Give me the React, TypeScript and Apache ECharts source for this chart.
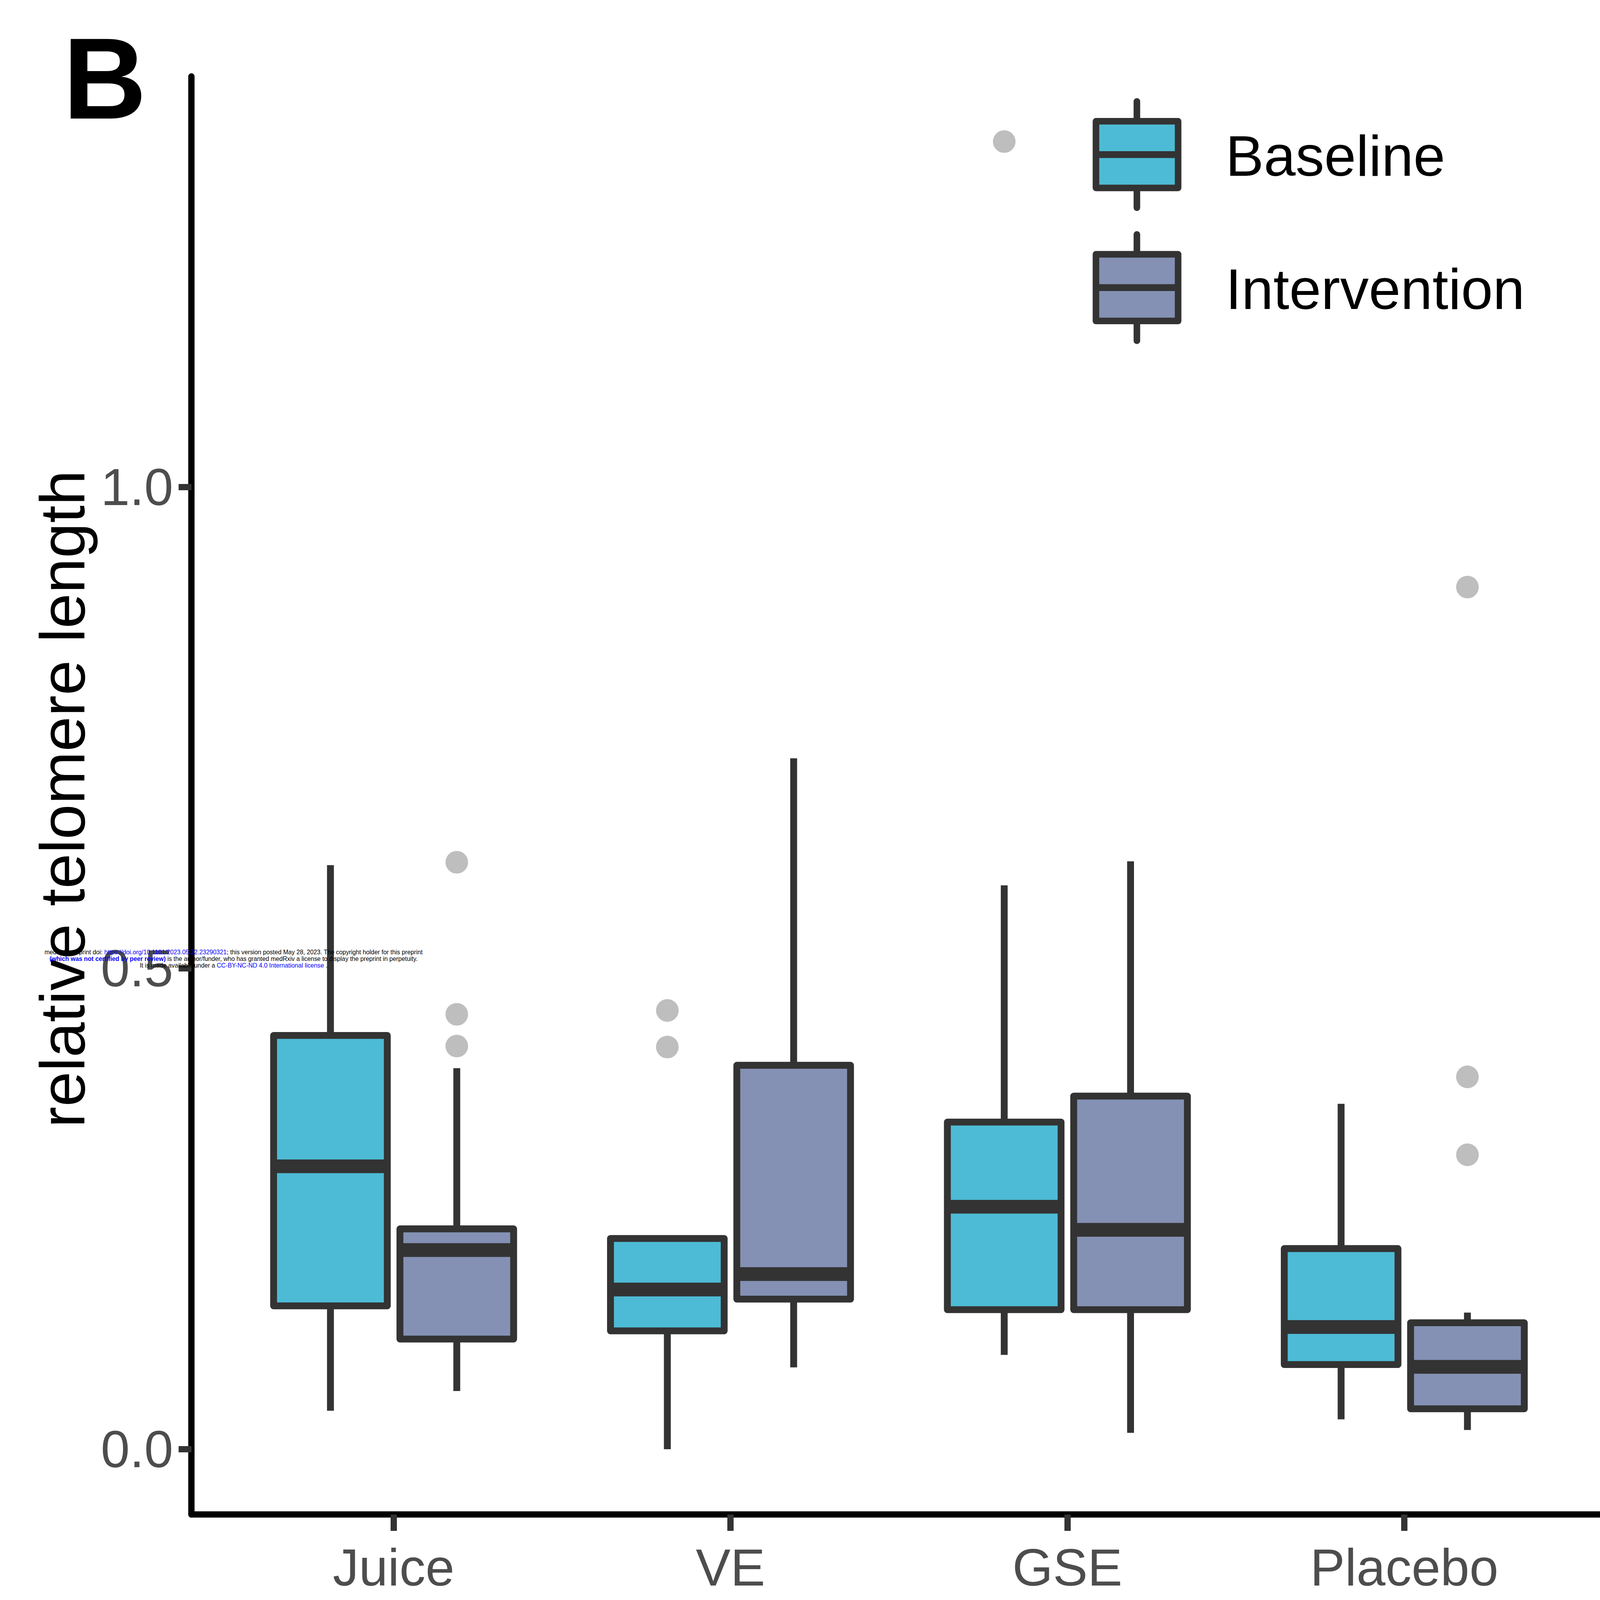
import React, { useEffect, useRef } from "react";
import * as echarts from "echarts";

// ---- data ----
const categories = ["Juice", "VE", "GSE", "Placebo"];
const groupNames = ["Baseline", "Intervention"];
const groupColors = ["#4DBBD5", "#8491B4"];
// each row: [lower whisker, Q1, median, Q3, upper whisker]
const baselineStats = [
  [0.04, 0.149, 0.294, 0.43, 0.607],
  [0.0, 0.123, 0.166, 0.219, 0.221],
  [0.098, 0.145, 0.252, 0.34, 0.586],
  [0.031, 0.088, 0.127, 0.2085, 0.359],
];
const interventionStats = [
  [0.0605, 0.1145, 0.207, 0.229, 0.396],
  [0.085, 0.156, 0.182, 0.399, 0.718],
  [0.017, 0.145, 0.228, 0.367, 0.611],
  [0.02, 0.042, 0.0856, 0.1314, 0.142],
];
// [category index, value]
const baselineOutliers = [
  [1, 0.456],
  [1, 0.418],
  [2, 1.359],
];
const interventionOutliers = [
  [0, 0.61],
  [0, 0.452],
  [0, 0.419],
  [3, 0.896],
  [3, 0.387],
  [3, 0.306],
];
const yTicks = [0, 0.5, 1.0];
const yTitle = "relative telomere length";
const panelLabel = "B";

const FONT = "'Liberation Sans', Arial, Helvetica, sans-serif";
const DODGE = 0.1875;
const BOX_W = 0.3375;
const LINE = "#333333";
const W0 = 5590;
const H0 = 4606;

export default function App() {
  const ref = useRef<HTMLDivElement>(null);
  const vw = typeof window !== "undefined" ? window.innerWidth : W0;
  const vh = typeof window !== "undefined" ? window.innerHeight : H0;
  const sx = Math.min(1, vw / W0);
  const sy = Math.min(1, vh / H0);
  const W = Math.floor(W0 * sx);
  const H = Math.floor(H0 * sy);

  useEffect(() => {
    if (!ref.current) return;
    const X = (n: number) => n * sx;
    const Y = (n: number) => n * sy;
    const F = (n: number) => n * sx;
    const chart = echarts.init(ref.current, null, { renderer: "svg", width: W, height: H });

    const boxSeries = (name: string, stats: number[][], color: string, offset: number) => ({
      type: "custom",
      name,
      encode: { x: 0, y: [1, 2, 3, 4, 5] },
      data: stats.map((s, i) => [i + 1, ...s]),
      z: 3,
      renderItem: (params: any, api: any) => {
        const xv = api.value(0) + offset;
        const [cx, yLow] = api.coord([xv, api.value(1)]);
        const yQ1 = api.coord([xv, api.value(2)])[1];
        const yMed = api.coord([xv, api.value(3)])[1];
        const yQ3 = api.coord([xv, api.value(4)])[1];
        const yHigh = api.coord([xv, api.value(5)])[1];
        const half = api.size([BOX_W, 0])[0] / 2;
        return {
          type: "group",
          children: [
            {
              type: "line",
              shape: { x1: cx, y1: yHigh, x2: cx, y2: yLow },
              style: { stroke: LINE, lineWidth: F(24), lineCap: "butt" },
            },
            {
              type: "rect",
              shape: { x: cx - half, y: yQ3, width: half * 2, height: yQ1 - yQ3 },
              style: { fill: color, stroke: LINE, lineWidth: F(24), lineJoin: "round" },
            },
            {
              type: "line",
              shape: { x1: cx - half, y1: yMed, x2: cx + half, y2: yMed },
              style: { stroke: LINE, lineWidth: F(48), lineCap: "butt" },
            },
          ],
        };
      },
    });

    const outlierSeries = (name: string, pts: number[][], offset: number) => ({
      type: "scatter",
      name,
      data: pts.map((q) => [q[0] + 1 + offset, q[1]]),
      symbol: "circle",
      symbolSize: F(79),
      itemStyle: { color: "#BEBEBE", opacity: 1 },
      z: 2,
    });

    const legendKey = (y0: number, color: string, label: string) => {
      const cx = 3972;
      return [
        {
          type: "line",
          shape: { x1: X(cx), y1: Y(y0 - 57), x2: X(cx), y2: Y(y0 + 249) },
          style: { stroke: LINE, lineWidth: F(23), lineCap: "round" },
          z: 10,
        },
        {
          type: "rect",
          shape: { x: X(3829), y: Y(y0), width: X(287), height: Y(192) },
          style: { fill: color, stroke: LINE, lineWidth: F(23), lineJoin: "round" },
          z: 11,
        },
        {
          type: "line",
          shape: { x1: X(3829), y1: Y(y0 + 96), x2: X(4116), y2: Y(y0 + 96) },
          style: { stroke: LINE, lineWidth: F(24) },
          z: 12,
        },
        {
          type: "text",
          x: X(4282),
          y: Y(y0 + 100),
          style: {
            text: label,
            fontSize: F(200),
            fontFamily: FONT,
            fill: "#000000",
            align: "left",
            verticalAlign: "middle",
          },
          z: 12,
        },
      ];
    };

    const option: any = {
      animation: false,
      backgroundColor: "#ffffff",
      grid: { left: X(669), right: 0, top: Y(220), bottom: Y(246), containLabel: false },
      xAxis: {
        type: "value",
        min: 0.4,
        max: 4.581,
        splitLine: { show: false },
        axisLine: { show: true, onZero: false, lineStyle: { color: "#000000", width: F(22) } },
        axisTick: {
          show: true,
          customValues: [1, 2, 3, 4],
          length: Y(47),
          lineStyle: { color: LINE, width: F(22) },
        },
        axisLabel: {
          show: true,
          customValues: [1, 2, 3, 4],
          formatter: (v: number) => categories[Math.round(v) - 1] ?? "",
          fontSize: F(182),
          lineHeight: F(182),
          fontFamily: FONT,
          color: "#4D4D4D",
          margin: Y(152) - F(91),
        },
      },
      yAxis: {
        type: "value",
        min: -0.0679,
        max: 1.4267,
        splitLine: { show: false },
        axisLine: { show: true, onZero: false, lineStyle: { color: "#000000", width: F(22) } },
        axisTick: {
          show: true,
          customValues: yTicks,
          length: X(45),
          lineStyle: { color: LINE, width: F(22) },
        },
        axisLabel: {
          show: true,
          customValues: yTicks,
          formatter: (v: number) => v.toFixed(1),
          fontSize: F(182),
          fontFamily: FONT,
          color: "#4D4D4D",
          margin: X(64),
        },
      },
      series: [
        outlierSeries(groupNames[0] + " outliers", baselineOutliers, -DODGE),
        outlierSeries(groupNames[1] + " outliers", interventionOutliers, DODGE),
        boxSeries(groupNames[0], baselineStats, groupColors[0], -DODGE),
        boxSeries(groupNames[1], interventionStats, groupColors[1], DODGE),
      ],
      graphic: [
        {
          type: "text",
          x: X(218),
          y: Y(2300),
          rotation: Math.PI / 2,
          style: {
            text: yTitle,
            fontSize: F(221),
            fontFamily: FONT,
            fill: "#000000",
            align: "center",
            verticalAlign: "middle",
          },
          z: 10,
        },
        {
          type: "text",
          x: X(220),
          y: Y(226),
          style: {
            text: panelLabel,
            fontSize: F(404),
            fontWeight: "bold",
            fontFamily: FONT,
            fill: "#000000",
            align: "left",
            verticalAlign: "middle",
          },
          z: 10,
        },
        ...legendKey(349, groupColors[0], groupNames[0]),
        ...legendKey(732, groupColors[1], groupNames[1]),
        {
          type: "text",
          x: X(816),
          y: Y(2760),
          style: {
            text:
              "medRxiv preprint doi: {b|https://doi.org/10.1101/2023.05.22.23290321}; this version posted May 28, 2023. The copyright holder for this preprint\n" +
              "{bb|(which was not certified by peer review)} is the author/funder, who has granted medRxiv a license to display the preprint in perpetuity.\n" +
              "It is made available under a {b|CC-BY-NC-ND 4.0 International license} .",
            fontSize: F(21.5),
            lineHeight: Y(19.5),
            fontFamily: FONT,
            fill: "#000000",
            align: "center",
            verticalAlign: "middle",
            rich: {
              b: { fill: "#0000FF", fontSize: F(21.5), lineHeight: Y(19.5), fontFamily: FONT },
              bb: {
                fill: "#0000FF",
                fontSize: F(21.5),
                lineHeight: Y(19.5),
                fontWeight: "bold",
                fontFamily: FONT,
              },
            },
          },
          z: 100,
        },
      ],
    };
    chart.setOption(option);
    return () => chart.dispose();
  }, [sx, sy, W, H]);

  return (
    <div
      ref={ref}
      style={{ position: "fixed", left: 0, top: 0, width: W, height: H, background: "#fff" }}
    />
  );
}
